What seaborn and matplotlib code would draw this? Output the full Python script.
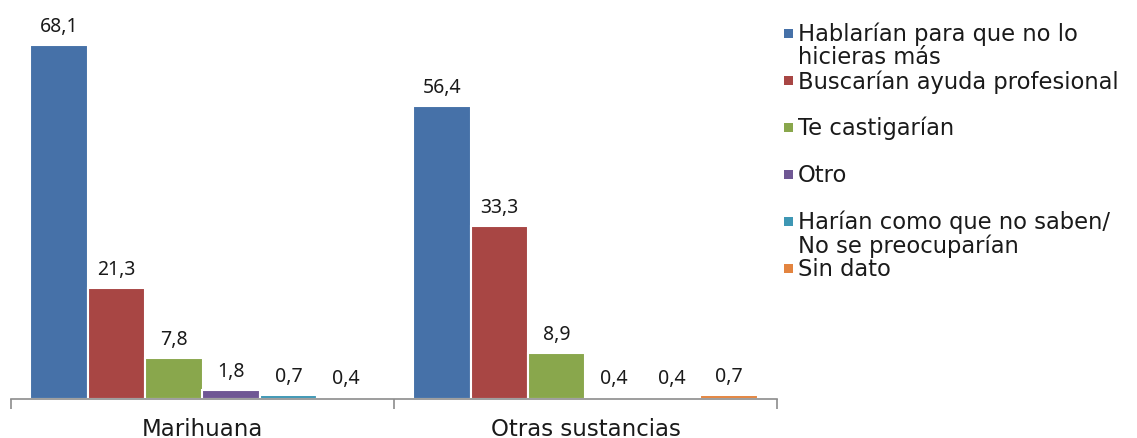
import matplotlib
matplotlib.use("Agg")
import matplotlib.pyplot as plt
from matplotlib.patches import Rectangle
import seaborn as sns
import pandas as pd

categories = ["Marihuana", "Otras sustancias"]
responses = [
    "Hablarían para que no lo\nhicieras más",
    "Buscarían ayuda profesional",
    "Te castigarían",
    "Otro",
    "Harían como que no saben/\nNo se preocuparían",
    "Sin dato",
]
marihuana = [68.1, 21.3, 7.8, 1.8, 0.7, 0.4]
otras = [56.4, 33.3, 8.9, 0.4, 0.4, 0.7]
colors = ["#4671A8", "#A84644", "#89A74C", "#6F5794", "#3E97B4", "#E3843F"]

df = pd.DataFrame({
    "categoria": [categories[0]] * len(responses) + [categories[1]] * len(responses),
    "respuesta": responses * 2,
    "valor": marihuana + otras,
})

sns.set_theme(style="white")
plt.rcParams["font.family"] = ["DejaVu Sans"]

fig = plt.figure(figsize=(11.37, 4.39), dpi=100)
ax = fig.add_axes([11 / 1137, 1 - 400 / 439, 766 / 1137, 400 / 439])

sns.barplot(
    data=df, x="categoria", y="valor", hue="respuesta",
    order=categories, hue_order=responses, palette=colors, saturation=1,
    width=0.9, edgecolor="white", linewidth=1.5, legend=False, ax=ax,
    errorbar=None,
)

for cont in ax.containers:
    ax.bar_label(cont, fmt=lambda v: f"{v:.1f}".replace(".", ","),
                 padding=6.5, fontsize=14, color="#1a1a1a",
                 family=["Noto Sans", "DejaVu Sans"])

ax.set_xlim(-0.5, 1.5)
ax.set_ylim(0, 400 / 354 * 68.1)
ax.set_xlabel("")
ax.set_ylabel("")
ax.set_yticks([])
for side in ["top", "right", "left"]:
    ax.spines[side].set_visible(False)
ax.spines["bottom"].set_color("#8c8c8c")
ax.spines["bottom"].set_linewidth(1.2)
ax.set_xticks([-0.5, 0.5, 1.5], minor=True)
ax.tick_params(axis="x", which="minor", length=7, width=1.2, color="#8c8c8c",
               direction="out", bottom=True)
ax.tick_params(axis="x", which="major", length=0, pad=13, labelsize=16.5,
               labelcolor="#1a1a1a")

# Legend: small squares with labels on the right side
W, H = 1137, 439
legend_y = [35, 82, 129, 176, 223, 270]
for label, color, y in zip(responses, colors, legend_y):
    fig.patches.append(Rectangle((784 / W, 1 - (y + 4) / H), 9 / W, 9 / H,
                                 transform=fig.transFigure, facecolor=color,
                                 edgecolor="none"))
    fig.text(798 / W, 1 - (y - 12) / H, label, ha="left", va="top",
             fontsize=16.3, color="#1a1a1a", linespacing=1.0)

fig.savefig("out.png", dpi=100, facecolor="white")
